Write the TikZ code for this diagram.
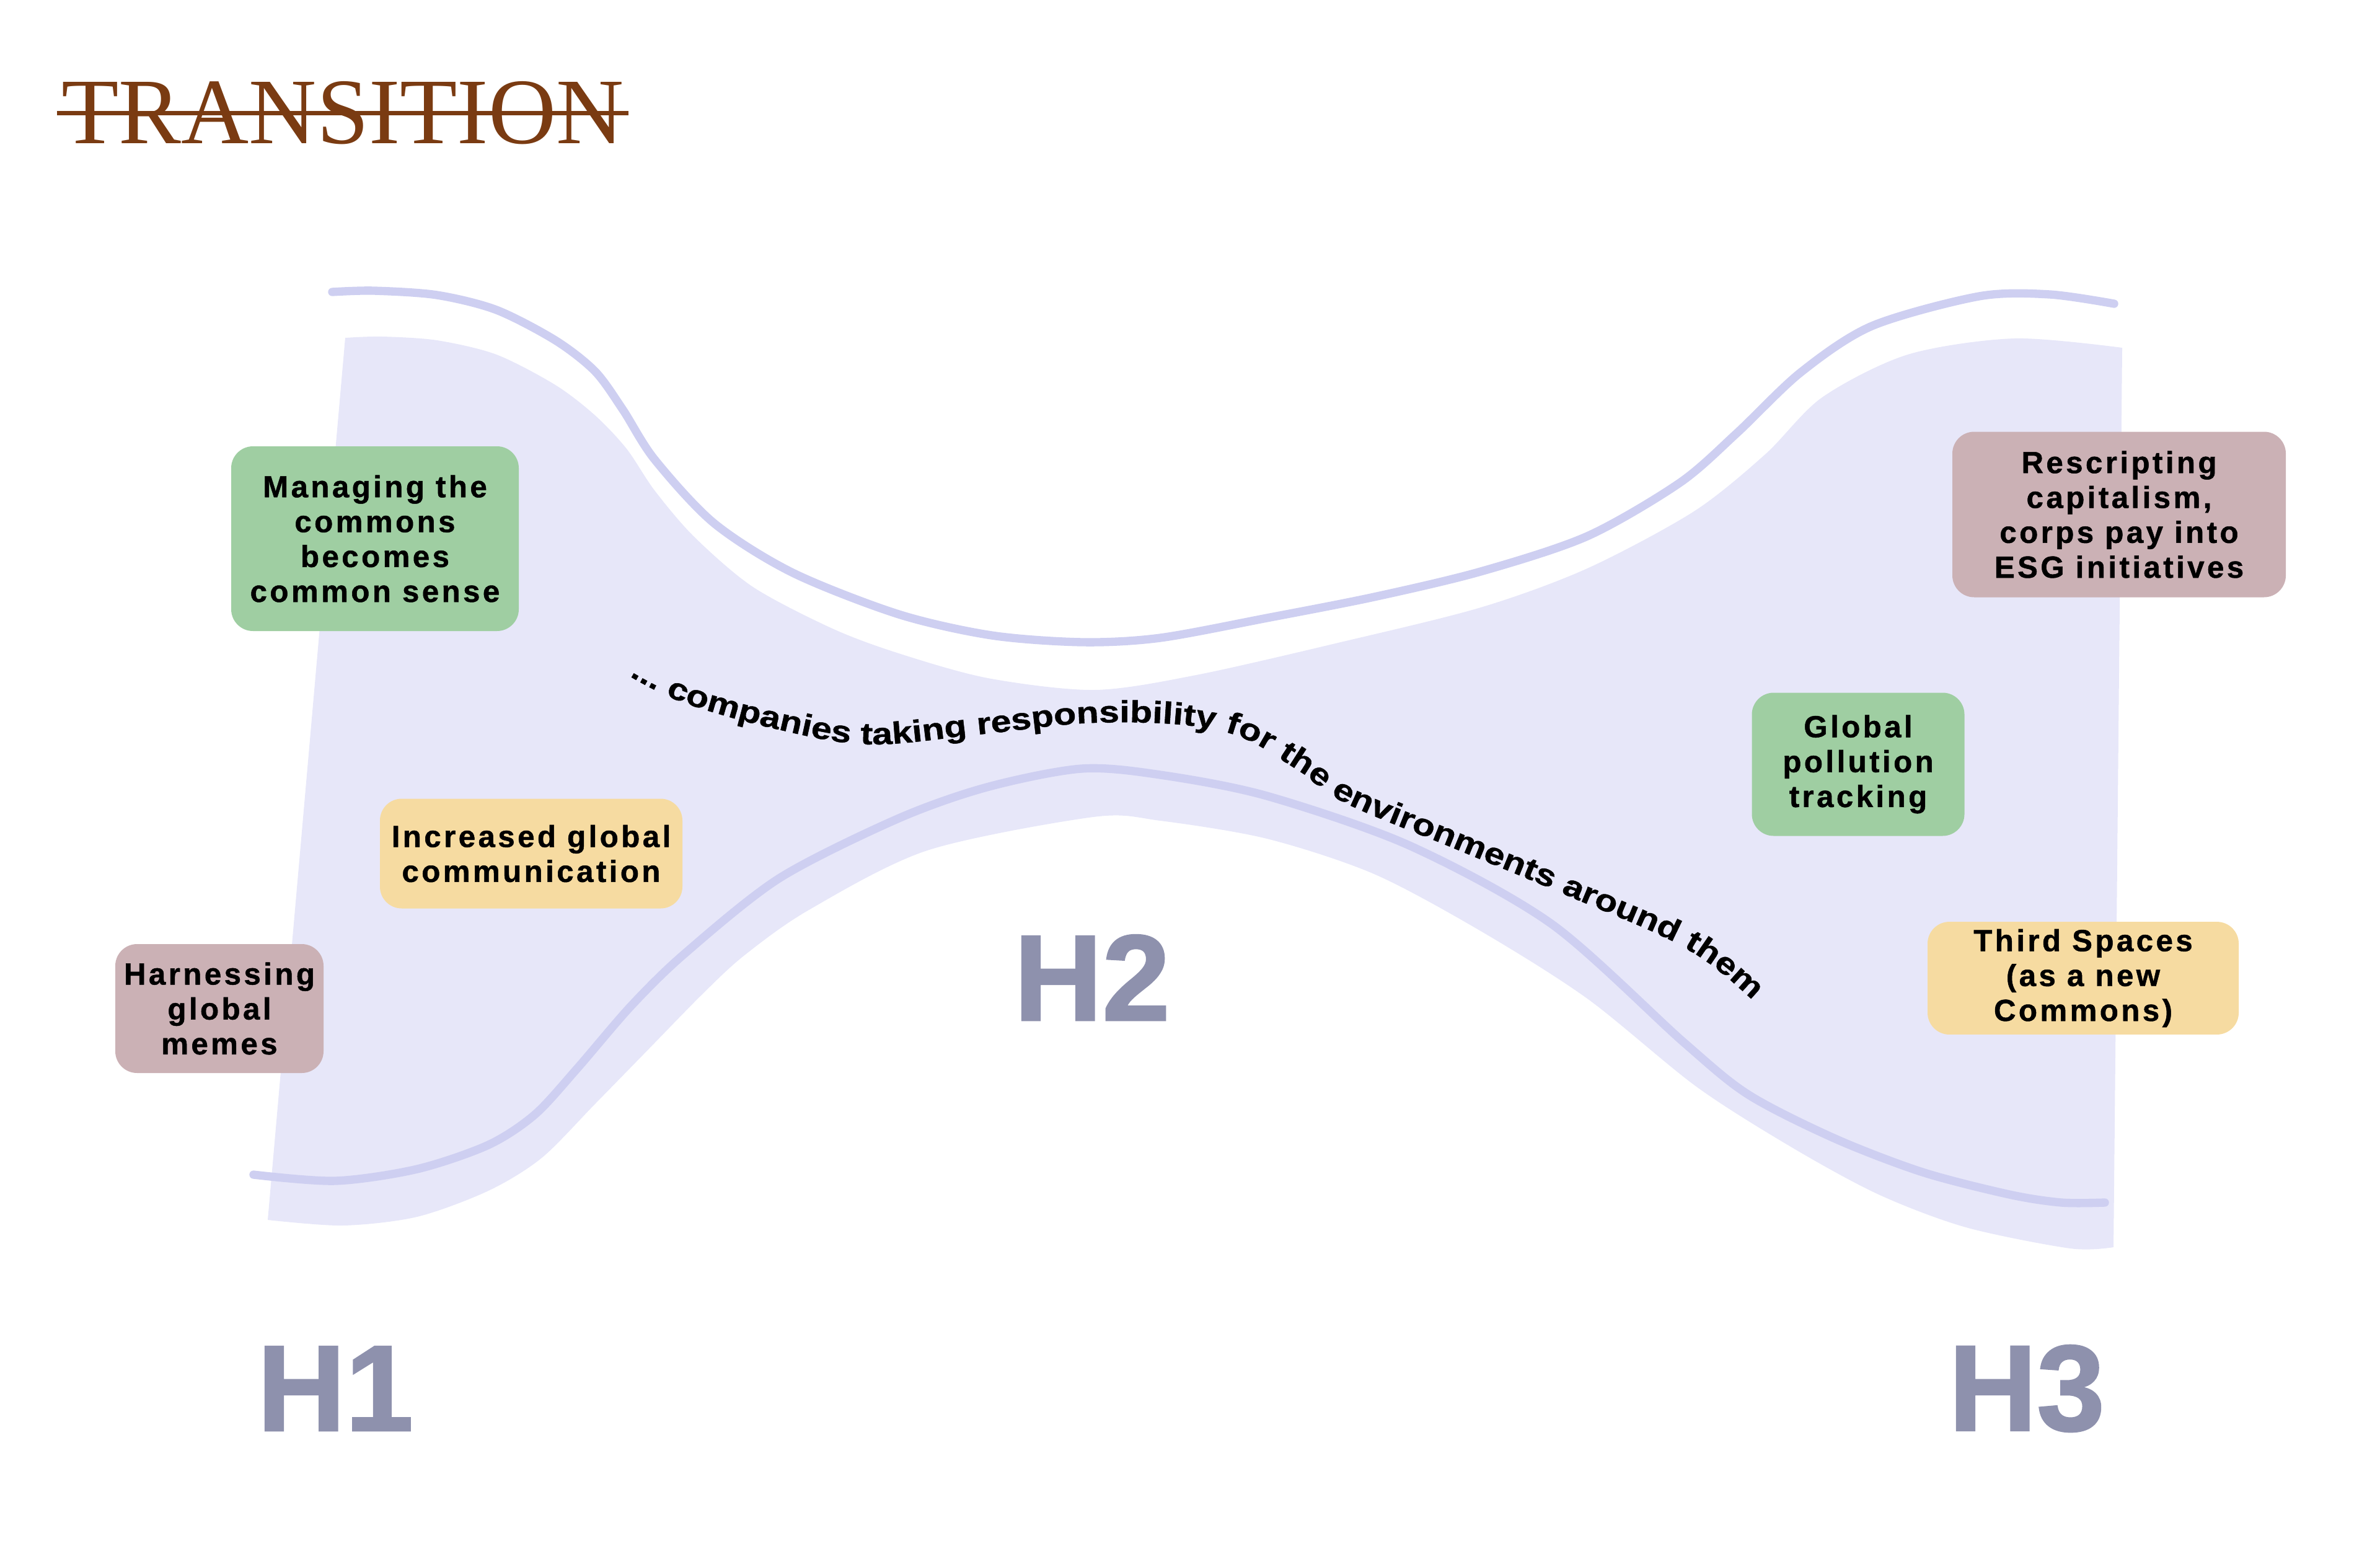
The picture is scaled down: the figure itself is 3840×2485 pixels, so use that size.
\documentclass[tikz,border=0pt]{standalone}
\usepackage{fontspec}
\setmainfont{Liberation Sans}
\newfontfamily\boxfont[LetterSpace=9, FakeBold=1]{Liberation Sans}
\newfontfamily\curvefont[FakeStretch=1.2, FakeBold=1]{Liberation Sans}
\newfontfamily\horizonfont[FakeBold=1.5]{Liberation Sans}
\newfontfamily\titlefont{Liberation Serif}
\definecolor{HourglassFill}{RGB}{231, 231, 249}
\definecolor{HourglassLine}{RGB}{206, 207, 241}
\definecolor{MemoMauve}{RGB}{203, 177, 181}
\definecolor{MemoGreen}{RGB}{159, 206, 162}
\definecolor{MemoYellow}{RGB}{246, 219, 161}
\definecolor{HorizonGrey}{RGB}{142, 145, 173}
\definecolor{TitleBrown}{RGB}{122, 59, 18}
\usetikzlibrary{decorations.text}

\begin{document}
\begin{tikzpicture}[x=0.01cm, y=-0.01cm]
  \useasboundingbox (0,0) rectangle (3840,2485);
  \fill[HourglassFill] (432,1968) -- plot[smooth, tension=0.5] coordinates {(557,545) (616,543) (705,549) (801,572) (896,621) (960,670) (1011,724) (1056,791) (1120,866) (1215,947) (1343,1014) (1450,1054) (1594,1094) (1766,1113) (1930,1089) (2159,1037) (2389,980) (2561,917) (2733,825) (2848,733) (2940,641) (3078,572) (3250,546) (3424,561)}
    -- plot[smooth, tension=0.5] coordinates {(3410,2012) (3340,2014) (3172,1980) (3031,1927) (2891,1851) (2737,1753) (2561,1611) (2389,1502) (2217,1410) (2044,1353) (1872,1324) (1764,1318) (1496,1372) (1305,1468) (1200,1542) (1132,1605) (1046,1693) (960,1781) (874,1868) (788,1921) (673,1963) (553,1977) (432,1968)} -- cycle;
  \draw[HourglassLine, line width=3.8pt, line cap=round] plot[smooth, tension=0.5] coordinates {(536,471) (603,469) (705,476) (801,500) (896,549) (960,599) (1005,661) (1056,741) (1152,844) (1279,924) (1450,991) (1600,1025) (1747,1036) (1872,1029) (2044,997) (2217,963) (2389,922) (2561,865) (2710,779) (2802,699) (2905,601) (3020,526) (3193,478) (3307,475) (3411,490)};
  \draw[HourglassLine, line width=3.8pt, line cap=round] plot[smooth, tension=0.5] coordinates {(409,1895) (541,1905) (673,1886) (788,1847) (863,1798) (931,1724) (1018,1623) (1104,1539) (1257,1417) (1448,1321) (1592,1270) (1745,1240) (1872,1250) (2044,1284) (2274,1364) (2504,1491) (2716,1681) (2821,1766) (2961,1837) (3102,1891) (3242,1927) (3326,1940) (3396,1940)};

  \node[font=\titlefont\fontsize{43}{43}\selectfont, text=TitleBrown, anchor=base, inner xsep=2pt] (title) at (553,232) {TRANSITION};
  \draw[TitleBrown, line width=2pt] (title.west) -- (title.east);

  \foreach \name/\clr/\x/\y/\w/\h/\txt in {commons/MemoGreen/605/869/464/298/{Managing the\\commons\\becomes\\common sense}, comms/MemoYellow/857/1377/488/177/{Increased global\\communication}, memes/MemoMauve/354/1627/336/208/{Harnessing\\global\\memes}, esg/MemoMauve/3419/830/538/267/{Rescripting\\capitalism,\\corps pay into\\ESG initiatives}, pollution/MemoGreen/2998/1233/343/231/{Global\\pollution\\tracking}, third/MemoYellow/3361/1578/502/175/{Third Spaces\\(as a new\\Commons)}} {
    \node[fill=\clr, rounded corners=10pt, minimum width={\w*0.01cm}, minimum height={\h*0.01cm}, align=center,
          font=\boxfont\bfseries\fontsize{14}{16}\selectfont] (\name) at (\x,\y) {\txt};
  }

  \foreach \name/\lbl/\x/\y in {hone/H1/541/2240, htwo/H2/1762/1577, hthree/H3/3270/2240} {
    \node[font=\horizonfont\bfseries\fontsize{56}{56}\selectfont, text=HorizonGrey] (\name) at (\x,\y) {\lbl};
  }

  \begin{scope}[x=1cm, y=1cm]
    \curvefont\bfseries\fontsize{14}{16}\selectfont
    \path[decorate, decoration={text along path,
          text={... companies taking responsibility for the environments around them}}]
      plot[smooth, tension=0.6] coordinates {(10.15,-10.90) (11.00,-11.32) (12.50,-11.75) (14.00,-12.00) (15.80,-11.84) (17.50,-11.66) (19.00,-11.68) (20.00,-11.88) (20.90,-12.40) (21.70,-12.95) (23.50,-13.70) (25.30,-14.45) (27.20,-15.30) (28.40,-16.25) (29.40,-17.25) (30.40,-18.30) (31.40,-19.40)};
  \end{scope}
\end{tikzpicture}
\end{document}
